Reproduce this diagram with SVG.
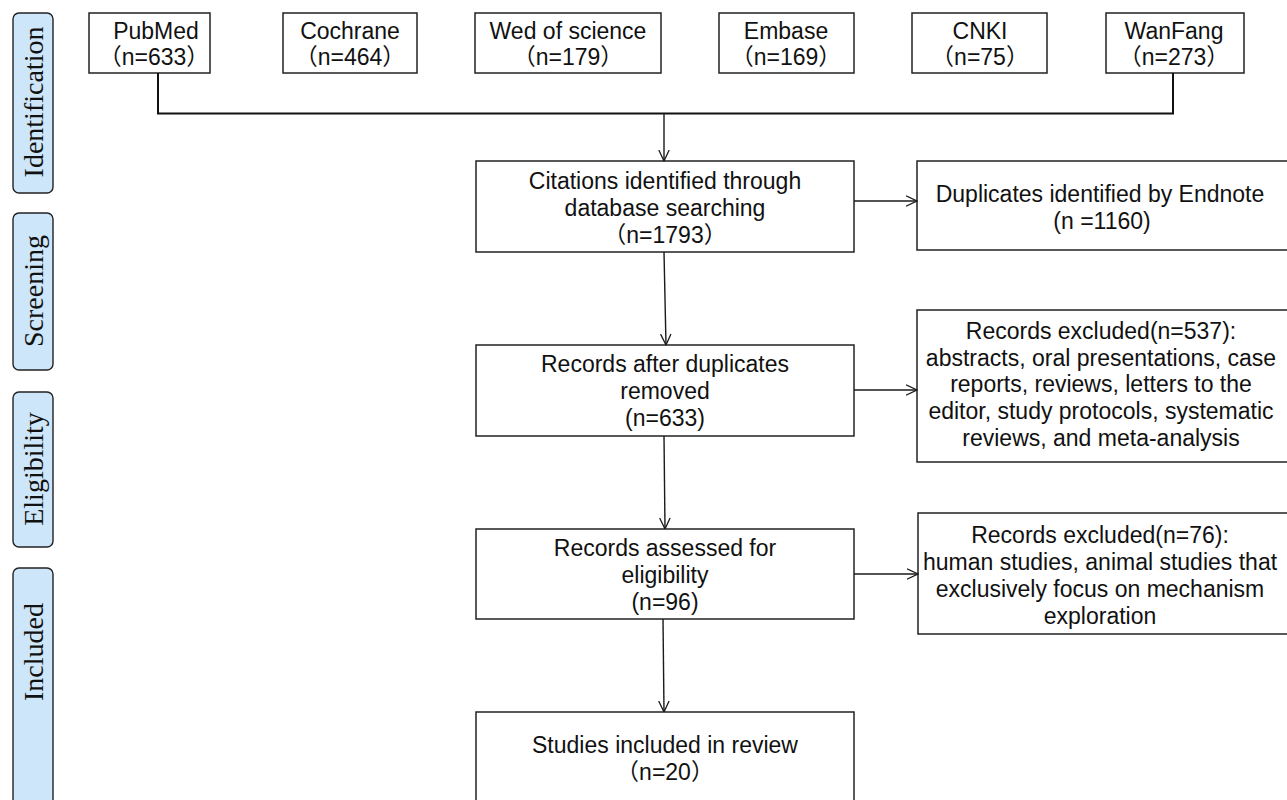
<svg xmlns="http://www.w3.org/2000/svg" width="1287" height="800" viewBox="0 0 1287 800">
<style>
.box{fill:#fff;stroke:#222;stroke-width:1.5}
.lab{fill:#cde6f9;stroke:#222;stroke-width:1.4}
.t{font-family:"Liberation Sans","Noto Sans CJK SC",sans-serif;font-size:23px;fill:#111;text-anchor:middle}
.s{font-family:"Liberation Serif",serif;font-size:28px;fill:#111;text-anchor:middle}
.ln{fill:none;stroke:#1a1a1a;stroke-width:1.4}
.bus{fill:none;stroke:#111;stroke-width:2}
</style>
<defs>
<marker id="arr" viewBox="0 0 12 12" refX="11.5" refY="6" markerWidth="12" markerHeight="12" markerUnits="userSpaceOnUse" orient="auto">
<path d="M0.5,0.8 L11.5,6 L0.5,11.2" fill="none" stroke="#1a1a1a" stroke-width="1.3"/>
</marker>
</defs>
<rect width="1287" height="800" fill="#fff"/>

<g id="stage-identification"><rect class="lab" x="13" y="13" width="40" height="180" rx="6"/><text class="s" transform="translate(43,102) rotate(-90)">Identification</text></g>
<g id="stage-screening"><rect class="lab" x="13" y="213" width="40" height="157" rx="6"/><text class="s" transform="translate(43,291) rotate(-90)">Screening</text></g>
<g id="stage-eligibility"><rect class="lab" x="13" y="392" width="40" height="155" rx="6"/><text class="s" transform="translate(43,469) rotate(-90)">Eligibility</text></g>
<g id="stage-included"><rect class="lab" x="13" y="568" width="40" height="260" rx="6"/><text class="s" transform="translate(43,652) rotate(-90)">Included</text></g>

<g id="pubmed"><rect class="box" x="89" y="13" width="121" height="60"/><text class="t" x="156" y="39">PubMed</text><text class="t" x="154" y="65">（n=633）</text></g>
<g id="cochrane"><rect class="box" x="283" y="13" width="134" height="60"/><text class="t" x="350" y="39">Cochrane</text><text class="t" x="350" y="65">（n=464）</text></g>
<g id="wos"><rect class="box" x="475" y="13" width="186" height="60"/><text class="t" x="568" y="39">Wed of science</text><text class="t" x="568" y="65">（n=179）</text></g>
<g id="embase"><rect class="box" x="719" y="13" width="135" height="60"/><text class="t" x="786" y="39">Embase</text><text class="t" x="786" y="65">（n=169）</text></g>
<g id="cnki"><rect class="box" x="912" y="13" width="135" height="60"/><text class="t" x="980" y="39">CNKI</text><text class="t" x="980" y="65">（n=75）</text></g>
<g id="wanfang"><rect class="box" x="1106" y="13" width="138" height="60"/><text class="t" x="1174" y="39">WanFang</text><text class="t" x="1174" y="65">（n=273）</text></g>

<g id="citations"><rect class="box" x="476" y="161" width="378" height="91"/><text class="t" x="665" y="189">Citations identified through</text><text class="t" x="665" y="216">database searching</text><text class="t" x="665" y="243">（n=1793）</text></g>
<g id="duplicates"><rect class="box" x="917" y="161" width="380" height="89"/><text class="t" x="1100" y="202">Duplicates identified by Endnote</text><text class="t" x="1102" y="229">(n =1160)</text></g>
<g id="after-dup"><rect class="box" x="476" y="345" width="378" height="91"/><text class="t" x="665" y="372">Records after duplicates</text><text class="t" x="665" y="399">removed</text><text class="t" x="665" y="426">(n=633)</text></g>
<g id="excluded-537"><rect class="box" x="917" y="310" width="380" height="152"/><text class="t" x="1101" y="339">Records excluded(n=537):</text><text class="t" x="1101" y="366">abstracts, oral presentations, case</text><text class="t" x="1101" y="392">reports, reviews, letters to the</text><text class="t" x="1101" y="419">editor, study protocols, systematic</text><text class="t" x="1101" y="446">reviews, and meta-analysis</text></g>
<g id="assessed"><rect class="box" x="476" y="529" width="378" height="90"/><text class="t" x="665" y="556">Records assessed for</text><text class="t" x="665" y="583">eligibility</text><text class="t" x="665" y="610">(n=96)</text></g>
<g id="excluded-76"><rect class="box" x="918" y="513" width="380" height="121"/><text class="t" x="1100" y="543">Records excluded(n=76):</text><text class="t" x="1100" y="570">human studies, animal studies that</text><text class="t" x="1100" y="597">exclusively focus on mechanism</text><text class="t" x="1100" y="624">exploration</text></g>
<g id="included"><rect class="box" x="476" y="712" width="378" height="110"/><text class="t" x="665" y="753">Studies included in review</text><text class="t" x="665" y="780">（n=20）</text></g>

<g id="connectors">
<path class="bus" d="M158,73 V113.5 H1173 V73"/>
<path class="ln" d="M664,113.5 V161" marker-end="url(#arr)"/>
<path class="ln" d="M854,201 H917" marker-end="url(#arr)"/>
<path class="ln" d="M664,252 L666,345" marker-end="url(#arr)"/>
<path class="ln" d="M854,390 H917" marker-end="url(#arr)"/>
<path class="ln" d="M664,436 L665,529" marker-end="url(#arr)"/>
<path class="ln" d="M854,574 H918" marker-end="url(#arr)"/>
<path class="ln" d="M663,619 L664,712" marker-end="url(#arr)"/>
</g>
</svg>
